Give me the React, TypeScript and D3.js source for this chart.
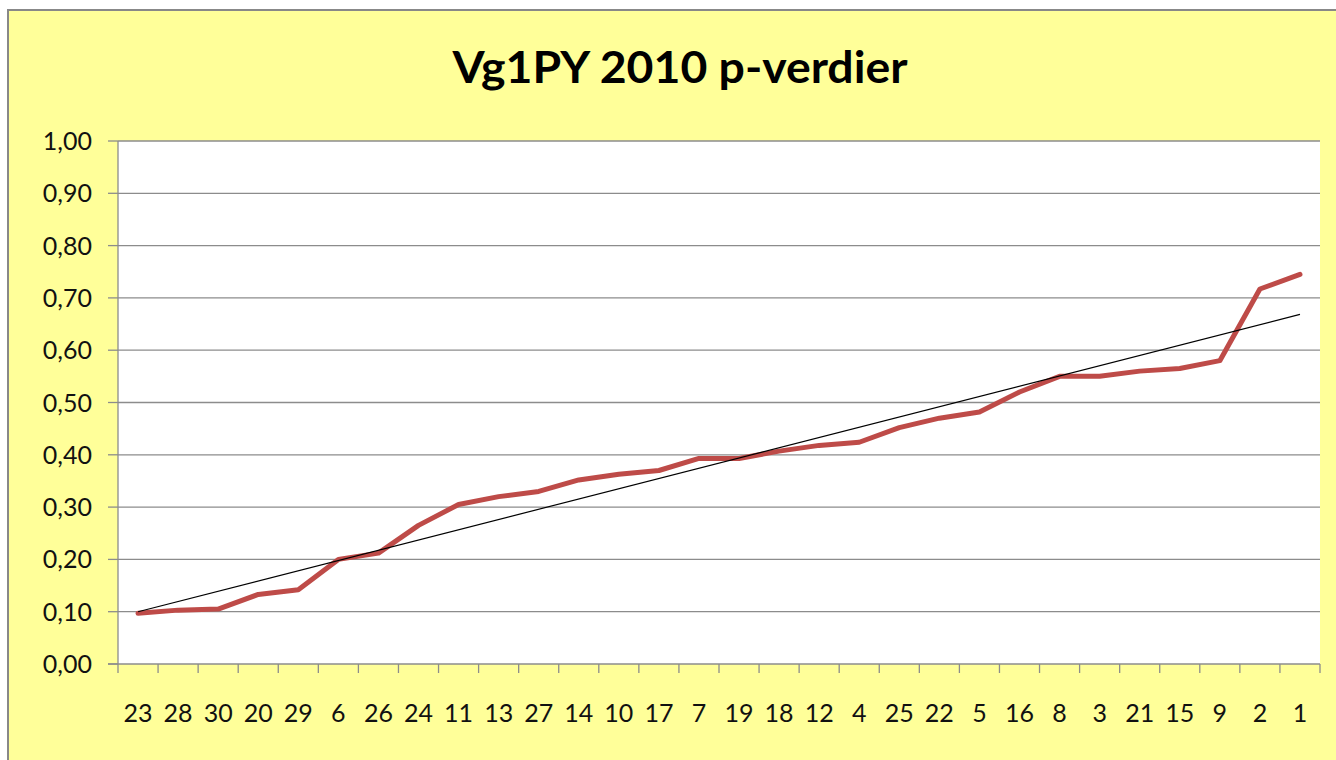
import { useMemo } from "react"
import { scaleBand, scaleLinear, line } from "d3"

const W = 1336, H = 760
const PL = 118, PR = 1320, PT = 141, PB = 664

const TITLE = "Vg1PY 2010 p-verdier"
const CATEGORIES = ["23", "28", "30", "20", "29", "6", "26", "24", "11", "13", "27", "14", "10", "17", "7",
  "19", "18", "12", "4", "25", "22", "5", "16", "8", "3", "21", "15", "9", "2", "1"]
const P_VALUES = [0.097, 0.103, 0.105, 0.133, 0.142, 0.2, 0.212, 0.265, 0.305, 0.32, 0.33, 0.352, 0.363, 0.37, 0.393,
  0.393, 0.407, 0.418, 0.424, 0.452, 0.47, 0.482, 0.52, 0.55, 0.55, 0.56, 0.565, 0.58, 0.717, 0.745]
const Y_TICKS = [0, 0.1, 0.2, 0.3, 0.4, 0.5, 0.6, 0.7, 0.8, 0.9, 1.0]

const FONT = "Lato, 'Open Sans', sans-serif"
const RED = "#be4b48"
const GRID = "#8c8c8c"

const fmt = (v: number) => v.toFixed(2).replace(".", ",")

export default function App() {
  const x = scaleBand<string>().domain(CATEGORIES).range([PL, PR])
  const y = scaleLinear().domain([0, 1]).range([PB, PT])
  const cx = (c: string) => (x(c) ?? 0) + x.bandwidth() / 2

  // least-squares trend line, like Excel's linear trendline
  const trend = useMemo(() => {
    const n = P_VALUES.length
    const xs = P_VALUES.map((_, i) => i + 1)
    const mx = xs.reduce((a, b) => a + b, 0) / n
    const my = P_VALUES.reduce((a, b) => a + b, 0) / n
    let sxy = 0, sxx = 0
    xs.forEach((xi, i) => { sxy += (xi - mx) * (P_VALUES[i] - my); sxx += (xi - mx) ** 2 })
    const b = sxy / sxx, a = my - b * mx
    return { y0: a + b * 1, y1: a + b * n }
  }, [])

  const path = line<number>()
    .x((_, i) => cx(CATEGORIES[i]))
    .y(d => y(d))(P_VALUES) ?? ""

  const edges = [...CATEGORIES.map(c => x(c) ?? 0), PR]

  return (
    <svg width={W} height={H} style={{ position: "absolute", left: 0, top: 0, display: "block" }}
      fontFamily={FONT}>
      <rect x={0} y={0} width={W} height={H} fill="#fff" />
      <rect x={8} y={10} width={W} height={H} fill="#ffff99" stroke="#888" strokeWidth={2} />

      <text x={680} y={83} textAnchor="middle" fontSize={43} fontWeight={700} fill="#000"
        textLength={455} lengthAdjust="spacingAndGlyphs">{TITLE}</text>

      <rect x={PL} y={PT} width={PR - PL} height={PB - PT} fill="#fff" />

      {Y_TICKS.map(t => (
        <g key={t}>
          {t > 0 && <line x1={PL} x2={PR} y1={y(t)} y2={y(t)} stroke={GRID} strokeWidth={1.3} />}
          <line x1={PL - 10} x2={PL} y1={y(t)} y2={y(t)} stroke={GRID} strokeWidth={1.3} />
          <text x={92} y={y(t)} dy="0.36em" textAnchor="end" fontSize={25} fill="#111">{fmt(t)}</text>
        </g>
      ))}

      <line x1={PL} x2={PL} y1={PT} y2={PB} stroke={GRID} strokeWidth={1.3} />
      <line x1={PL - 10} x2={PR} y1={PB} y2={PB} stroke={GRID} strokeWidth={1.3} />
      {edges.map((e, i) => (
        <line key={i} x1={e} x2={e} y1={PB} y2={PB + 9} stroke={GRID} strokeWidth={1.3} />
      ))}
      {CATEGORIES.map(c => (
        <text key={c} x={cx(c)} y={722} textAnchor="middle" fontSize={25} fill="#111">{c}</text>
      ))}

      <path d={path} fill="none" stroke={RED} strokeWidth={5} strokeLinejoin="round" strokeLinecap="round" />
      <line x1={cx(CATEGORIES[0])} x2={cx(CATEGORIES[CATEGORIES.length - 1])}
        y1={y(trend.y0)} y2={y(trend.y1)} stroke="#000" strokeWidth={1.2} />
    </svg>
  )
}
